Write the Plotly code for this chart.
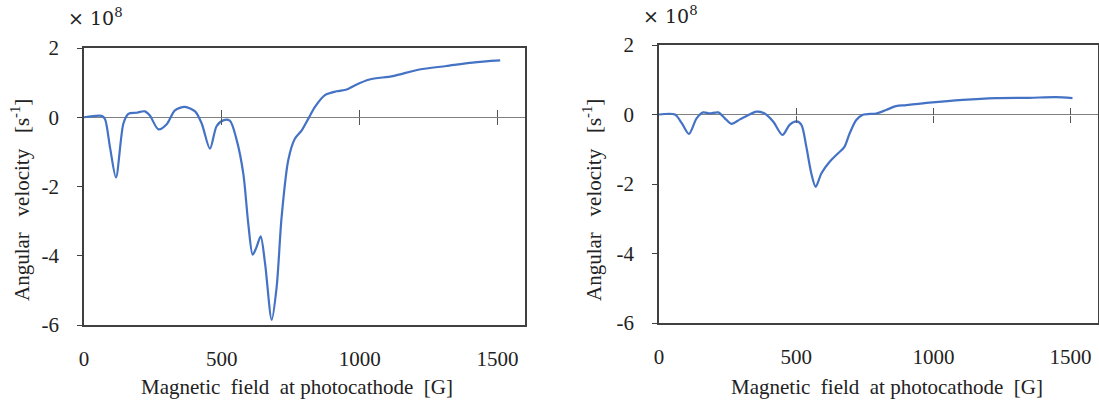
import plotly.graph_objects as go

# Values in units of 1e8 s^-1
field_a = [0, 64, 76, 95, 116, 143, 161, 190, 221, 239, 270, 300, 330, 366, 403, 427, 457, 481,
           505, 529, 554, 578, 596, 612, 626, 641, 657, 681, 699, 717, 741, 765, 790, 814, 838,
           874, 916, 953, 982, 1036, 1121, 1217, 1314, 1410, 1510]
omega_a = [0, 0.04, -0.05, -0.9, -1.74, -0.18, 0.1, 0.13, 0.17, 0.05, -0.35, -0.2, 0.2, 0.3, 0.17,
           -0.18, -0.91, -0.26, -0.09, -0.1, -0.66, -1.63, -3.07, -3.97, -3.75, -3.44, -4.23, -5.85,
           -4.9, -2.88, -1.24, -0.62, -0.38, -0.04, 0.3, 0.64, 0.75, 0.8, 0.92, 1.09, 1.19, 1.38,
           1.48, 1.58, 1.64]

field_b = [0, 58, 83, 109, 137, 161, 185, 216, 240, 264, 295, 325, 355, 385, 416, 450, 476, 501,
           519, 537, 555, 571, 592, 622, 652, 676, 695, 719, 743, 792, 828, 864, 901, 985, 1107,
           1228, 1349, 1446, 1507]
omega_b = [0, 0, -0.25, -0.56, -0.11, 0.06, 0.03, 0.06, -0.11, -0.27, -0.14, -0.02, 0.08, 0.03,
           -0.2, -0.59, -0.3, -0.2, -0.3, -0.93, -1.69, -2.08, -1.69, -1.36, -1.12, -0.93, -0.54,
           -0.16, -0.01, 0.03, 0.13, 0.24, 0.27, 0.34, 0.42, 0.47, 0.48, 0.5, 0.47]

x_ticks = [0, 500, 1000, 1500]
y_ticks = [2, 0, -2, -4, -6]
y_ticktext = ["2", "0", "-2", "-4", "-6"]
x_title = "Magnetic\u00a0 field\u00a0 at photocathode\u00a0 [G]"
y_title = "Angular\u00a0\u00a0 velocity\u00a0\u00a0 [s<sup>-1</sup>]"
scale_label = "× 10<sup>8</sup>"

W, H = 1099, 406
LINE = "#4472C4"
FONT = "Liberation Serif, Times New Roman, serif"

panels = [
    dict(x=field_a, y=omega_a, px=(84, 525), py=(48, 325), xt=297, yt=20, sx=66, sy=17),
    dict(x=field_b, y=omega_b, px=(659, 1098), py=(45, 323), xt=887, yt=592, sx=641, sy=15),
]

fig = go.Figure()
layout = dict(width=W, height=H, margin=dict(l=0, r=0, t=0, b=0, autoexpand=False),
              paper_bgcolor="white", plot_bgcolor="white", showlegend=False,
              font=dict(family=FONT, size=21, color="#222222"))
annotations = []
for i, p in enumerate(panels):
    n = i + 1
    xs = "" if n == 1 else str(n)
    xd = [p["px"][0] / W, p["px"][1] / W]
    yd = [1 - p["py"][1] / H, 1 - p["py"][0] / H]
    # crossing tick marks on the zero line (two overlaid axes, ticks out + in)
    zero_pos = yd[0] + (yd[1] - yd[0]) * 0.75
    for k, side in enumerate(["outside", "inside"]):
        num = str(10 + 2 * i + k)
        layout["xaxis" + num] = dict(domain=xd, range=[0, 1600], overlaying="x" + xs,
                                     anchor="free", position=zero_pos, tickvals=x_ticks[1:],
                                     ticks=side, ticklen=7, tickcolor="#555555", tickwidth=1,
                                     showticklabels=False, showgrid=False, zeroline=False,
                                     showline=False, automargin=False)
        fig.add_trace(go.Scatter(x=p["x"], y=p["y"], mode="lines", opacity=0,
                                 line=dict(width=0), hoverinfo="skip",
                                 xaxis="x" + num, yaxis="y" + xs))
    fig.add_trace(go.Scatter(x=p["x"], y=p["y"], mode="lines",
                             line=dict(color=LINE, width=2.2, shape="spline", smoothing=0.8),
                             xaxis="x" + xs, yaxis="y" + xs))
    layout["xaxis" + xs] = dict(domain=xd, range=[0, 1600], anchor="y" + xs,
                                tickvals=x_ticks, ticks="", showgrid=False, zeroline=False,
                                showline=True, mirror=True, linecolor="#404040", linewidth=1.5,
                                ticklabelstandoff=14, automargin=False)
    layout["yaxis" + xs] = dict(domain=yd, range=[-6, 2], anchor="x" + xs,
                                tickvals=y_ticks, ticktext=y_ticktext, ticks="outside",
                                ticklen=5, tickcolor="#404040",
                                showgrid=False, zeroline=True, zerolinecolor="#808080",
                                zerolinewidth=1.2, showline=True, mirror=True,
                                linecolor="#404040", linewidth=1.5, ticklabelstandoff=14,
                                automargin=False)
    annotations += [
        dict(text=x_title, x=p["xt"] / W, y=1 - 387 / H, xref="paper", yref="paper",
             showarrow=False, xanchor="center", yanchor="middle", font=dict(size=21)),
        dict(text=y_title, x=p["yt"] / W, y=1 - 200 / H, xref="paper", yref="paper",
             showarrow=False, textangle=-90, xanchor="center", yanchor="middle",
             font=dict(size=21)),
        dict(text=scale_label, x=p["sx"] / W, y=1 - p["sy"] / H, xref="paper", yref="paper",
             showarrow=False, xanchor="left", yanchor="middle",
             font=dict(size=19, family="DejaVu Serif, serif")),
    ]
layout["annotations"] = annotations
fig.update_layout(**layout)
fig.write_html("out.html", config={"displayModeBar": False},
               post_script="document.body.style.margin='0';document.body.style.overflow='hidden';")
